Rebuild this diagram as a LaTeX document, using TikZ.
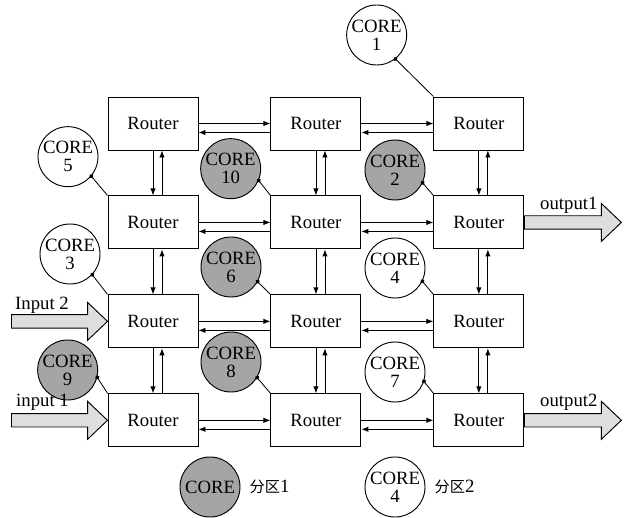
\documentclass[tikz,border=0pt]{standalone}
\usepackage{fontspec}
\setmainfont{Liberation Serif}
\newfontfamily\cjk{Noto Sans CJK SC}
\usetikzlibrary{positioning,arrows.meta}
\definecolor{coregray}{RGB}{165,165,165}
\definecolor{pipegray}{RGB}{222,222,222}

\begin{document}
\begin{tikzpicture}[
    router/.style={rectangle, draw, fill=white, minimum width=2.7cm, minimum height=1.59cm,
                   line width=0.8pt, font=\fontsize{16}{18}\selectfont},
    core/.style={circle, draw, fill=white, minimum size=1.8cm, inner sep=0pt, align=center,
                 line width=0.8pt, font=\fontsize{16}{15.5}\selectfont},
    busy/.style={core, fill=coregray},
    link/.style={-{Latex[length=2.1mm,width=1.6mm]}, line width=0.7pt},
    tie/.style={{Circle[length=1.3mm]}-, line width=0.7pt, shorten <=-0.65mm},
    pipe/.style={draw, fill=pipegray, line width=0.8pt},
    pipelabel/.style={anchor=base west, inner sep=0pt, font=\fontsize{16}{18}\selectfont}
]
\useasboundingbox (0,0) rectangle (18.75,-15.54);

% routers
\node[router] (r11) at (4.59,-3.705) {Router};
\node[router, right=2.16cm of r11] (r12) {Router};
\node[router, right=2.16cm of r12] (r13) {Router};
\node[router, below=1.35cm of r11] (r21) {Router};
\node[router, right=2.16cm of r21] (r22) {Router};
\node[router, right=2.16cm of r22] (r23) {Router};
\node[router, below=1.35cm of r21] (r31) {Router};
\node[router, right=2.16cm of r31] (r32) {Router};
\node[router, right=2.16cm of r32] (r33) {Router};
\node[router, below=1.35cm of r31] (r41) {Router};
\node[router, right=2.16cm of r41] (r42) {Router};
\node[router, right=2.16cm of r42] (r43) {Router};

% links between neighbours
\draw[link] (r11.east) -- (r12.west); \draw[link] ([yshift=-0.27cm]r12.west) -- ([yshift=-0.27cm]r11.east);
\draw[link] (r12.east) -- (r13.west); \draw[link] ([yshift=-0.27cm]r13.west) -- ([yshift=-0.27cm]r12.east);
\draw[link] (r21.east) -- (r22.west); \draw[link] ([yshift=-0.27cm]r22.west) -- ([yshift=-0.27cm]r21.east);
\draw[link] (r22.east) -- (r23.west); \draw[link] ([yshift=-0.27cm]r23.west) -- ([yshift=-0.27cm]r22.east);
\draw[link] (r31.east) -- (r32.west); \draw[link] ([yshift=-0.27cm]r32.west) -- ([yshift=-0.27cm]r31.east);
\draw[link] (r32.east) -- (r33.west); \draw[link] ([yshift=-0.27cm]r33.west) -- ([yshift=-0.27cm]r32.east);
\draw[link] (r41.east) -- (r42.west); \draw[link] ([yshift=-0.27cm]r42.west) -- ([yshift=-0.27cm]r41.east);
\draw[link] (r42.east) -- (r43.west); \draw[link] ([yshift=-0.27cm]r43.west) -- ([yshift=-0.27cm]r42.east);

\draw[link] (r11.south) -- (r21.north); \draw[link] ([xshift=0.27cm]r21.north) -- ([xshift=0.27cm]r11.south);
\draw[link] (r21.south) -- (r31.north); \draw[link] ([xshift=0.27cm]r31.north) -- ([xshift=0.27cm]r21.south);
\draw[link] (r31.south) -- (r41.north); \draw[link] ([xshift=0.27cm]r41.north) -- ([xshift=0.27cm]r31.south);
\draw[link] (r12.south) -- (r22.north); \draw[link] ([xshift=0.27cm]r22.north) -- ([xshift=0.27cm]r12.south);
\draw[link] (r22.south) -- (r32.north); \draw[link] ([xshift=0.27cm]r32.north) -- ([xshift=0.27cm]r22.south);
\draw[link] (r32.south) -- (r42.north); \draw[link] ([xshift=0.27cm]r42.north) -- ([xshift=0.27cm]r32.south);
\draw[link] (r13.south) -- (r23.north); \draw[link] ([xshift=0.27cm]r23.north) -- ([xshift=0.27cm]r13.south);
\draw[link] (r23.south) -- (r33.north); \draw[link] ([xshift=0.27cm]r33.north) -- ([xshift=0.27cm]r23.south);
\draw[link] (r33.south) -- (r43.north); \draw[link] ([xshift=0.27cm]r43.north) -- ([xshift=0.27cm]r33.south);

% cores
\node[core] (c1) at (11.30,-1.05) {CORE\\1};
\node[busy] (c2) at (11.85,-5.10) {CORE\\2};
\node[core] (c3) at (2.10,-7.62) {CORE\\3};
\node[core] (c4) at (11.85,-8.04) {CORE\\4};
\node[core] (c5) at (2.04,-4.70) {CORE\\5};
\node[busy] (c6) at (6.93,-8.01) {CORE\\6};
\node[core] (c7) at (11.85,-11.16) {CORE\\7};
\node[busy] (c8) at (6.93,-10.86) {CORE\\8};
\node[busy] (c9) at (2.03,-11.10) {CORE\\9};
\node[busy] (c10) at (6.92,-5.06) {CORE\\10};

\draw[tie] (c1.-52) -- (r13.north west);
\draw[tie] (c2.-25) -- (r23.north west);
\draw[tie] (c3.-43) -- (r31.north west);
\draw[tie] (c4.-26) -- (r33.north west);
\draw[tie] (c5.-40) -- (r21.north west);
\draw[tie] (c6.-29) -- (r32.north west);
\draw[tie] (c7.-18) -- (r43.north west);
\draw[tie] (c8.-31) -- (r42.north west);
\draw[tie] (c9.-14) -- (r41.north west);
\draw[tie] (c10.-23) -- (r22.north west);

% inputs and outputs
\draw[pipe] (r31.west) -- ++(-0.6,0.57) -- ++(0,-0.37) -- ++(-2.28,0) -- ++(0,-0.4) -- ++(2.28,0) -- ++(0,-0.37) -- cycle;
\draw[pipe] (r41.west) -- ++(-0.6,0.57) -- ++(0,-0.37) -- ++(-2.28,0) -- ++(0,-0.4) -- ++(2.28,0) -- ++(0,-0.37) -- cycle;
\draw[pipe] ([yshift=0.2cm]r23.east) -- ++(2.31,0) -- ++(0,0.37) -- ++(0.6,-0.57) -- ++(-0.6,-0.57) -- ++(0,0.37) -- ++(-2.31,0) -- cycle;
\draw[pipe] ([yshift=0.2cm]r43.east) -- ++(2.31,0) -- ++(0,0.37) -- ++(0.6,-0.57) -- ++(-0.6,-0.57) -- ++(0,0.37) -- ++(-2.31,0) -- cycle;

\node[pipelabel] (in2) at (0.45,-9.28) {Input 2};
\node[pipelabel] (in1) at (0.48,-12.21) {input 1};
\node[pipelabel] (out1) at (16.2,-6.3) {output1};
\node[pipelabel] (out2) at (16.2,-12.2) {output2};

% legend
\node[busy] (lg1) at (6.30,-14.61) {CORE};
\node[right=0.15cm of lg1, font=\fontsize{16}{18}\selectfont] (t1) {{\cjk\fontsize{13}{15}\selectfont 分区}1};
\node[core] (lg2) at (11.85,-14.61) {CORE\\4};
\node[right=0.15cm of lg2, font=\fontsize{16}{18}\selectfont] (t2) {{\cjk\fontsize{13}{15}\selectfont 分区}2};

\end{tikzpicture}
\end{document}
